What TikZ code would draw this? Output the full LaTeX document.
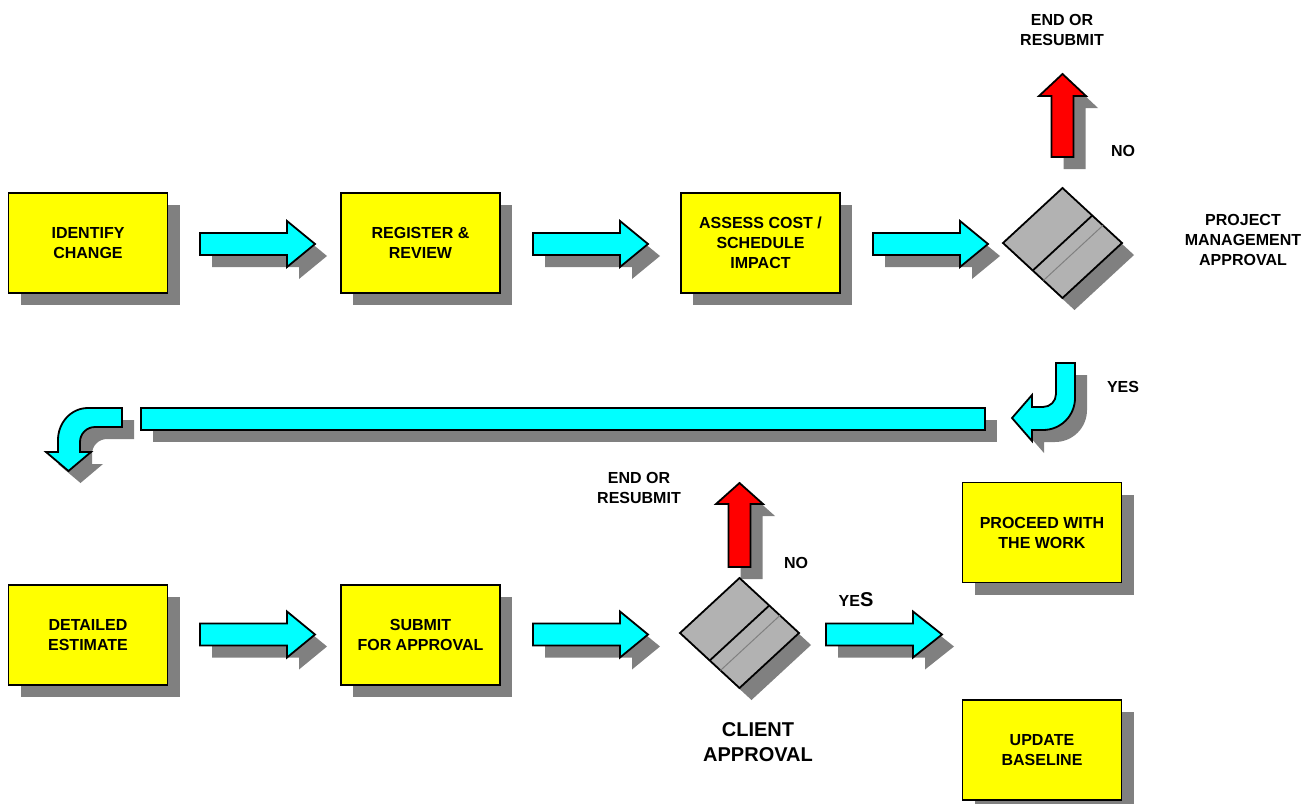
\documentclass[tikz,border=0pt]{standalone}
\usepackage{fontspec}
\setmainfont{Liberation Sans}[BoldFont={Liberation Sans Bold}]
\usetikzlibrary{shapes.geometric,shadows,calc}
\definecolor{boxyellow}{RGB}{255,255,0}
\definecolor{flowcyan}{RGB}{0,255,255}
\definecolor{stopred}{RGB}{255,0,0}
\definecolor{diagray}{RGB}{178,178,178}
\definecolor{shadegray}{RGB}{128,128,128}
\begin{document}
\begin{tikzpicture}[x=1pt,y=-1pt,
  dropsh/.style={drop shadow={shadow xshift=12pt,shadow yshift=-12pt,opacity=1,fill=shadegray}},
  actbox/.style={dropsh,draw,line width=1.8pt,fill=boxyellow,minimum width=159,minimum height=100,align=center,font=\fontsize{16}{20}\selectfont\bfseries},
  decision/.style={dropsh,diamond,draw,line width=1.8pt,fill=diagray,minimum width=119,minimum height=110,inner sep=0pt,outer sep=0pt},
  fwdarrow/.style={dropsh,draw,line width=1.8pt,fill=flowcyan,line join=miter},
  stoparrow/.style={dropsh,draw,line width=1.8pt,fill=stopred,line join=miter},
  lbl/.style={align=center,font=\fontsize{16}{20}\selectfont\bfseries,inner sep=0pt}]
 \useasboundingbox (0,0) rectangle (1311,803);
 % first row
 \node[actbox] (idc) at (88,243) {IDENTIFY\\CHANGE};
 \node[actbox] (reg) at (420.5,243) {REGISTER \&\\REVIEW};
 \node[actbox] (asc) at (760.5,243) {ASSESS COST /\\SCHEDULE\\IMPACT};
 \draw[fwdarrow,shift={(200,244)}] (0,-11) -- (87,-11) -- (87,-23) -- (115,0) -- (87,23) -- (87,11) -- (0,11) -- cycle;
 \draw[fwdarrow,shift={(533,244)}] (0,-11) -- (87,-11) -- (87,-23) -- (115,0) -- (87,23) -- (87,11) -- (0,11) -- cycle;
 \draw[fwdarrow,shift={(873,244)}] (0,-11) -- (87,-11) -- (87,-23) -- (115,0) -- (87,23) -- (87,11) -- (0,11) -- cycle;
 \draw[stoparrow,shift={(1062.5,74)}] (0,0) -- (23.5,22) -- (11,22) -- (11,83) -- (-11,83) -- (-11,22) -- (-23.5,22) -- cycle;
 \node[decision] (pma) at (1062.5,243) {};
 \draw[line width=1.8pt] ($(pma.north)!.5!(pma.east)$) -- ($(pma.west)!.5!(pma.south)$);
 \draw[shadegray,line width=1pt] ($(pma.north)!.68!(pma.east)$) -- ($(pma.west)!.68!(pma.south)$);
 \node[lbl] (pmaend) at (1062,30) {END OR\\RESUBMIT};
 \node[lbl] (pmano) at (1123,151) {NO};
 \node[lbl] (pmatxt) at (1243,240) {PROJECT\\MANAGEMENT\\APPROVAL};
 % return path
 \draw[fwdarrow] (1056,363) -- (1075,363) -- (1075,398) to[out=-90,in=0] (1043,430) -- (1032,430) -- (1032,441) -- (1012,418) -- (1032,395) -- (1032,407) -- (1043,407) to[out=0,in=-90] (1056,394) -- cycle;
 \node[lbl] (pmayes) at (1123,387) {YES};
 \node[dropsh,draw,line width=1.8pt,fill=flowcyan,minimum width=844,minimum height=22,inner sep=0pt] (pipe) at (563,419) {};
 \draw[fwdarrow] (122,408) -- (88,408) to[out=180,in=90] (58,440) -- (58,452) -- (46,452) -- (68.5,471) -- (91,452) -- (80,452) -- (80,442) to[out=90,in=180] (95,427) -- (122,427) -- cycle;
 % second row
 \node[actbox] (det) at (88,635) {DETAILED\\ESTIMATE};
 \node[actbox] (sub) at (420.5,635) {SUBMIT\\FOR APPROVAL};
 \draw[fwdarrow,shift={(200,634.5)}] (0,-11) -- (87,-11) -- (87,-23) -- (115,0) -- (87,23) -- (87,11) -- (0,11) -- cycle;
 \draw[fwdarrow,shift={(533,634.5)}] (0,-11) -- (87,-11) -- (87,-23) -- (115,0) -- (87,23) -- (87,11) -- (0,11) -- cycle;
 \draw[stoparrow,shift={(739.5,483)}] (0,0) -- (23.5,21) -- (11,21) -- (11,84) -- (-11,84) -- (-11,21) -- (-23.5,21) -- cycle;
 \node[decision] (cla) at (739.5,633) {};
 \draw[line width=1.8pt] ($(cla.north)!.5!(cla.east)$) -- ($(cla.west)!.5!(cla.south)$);
 \draw[shadegray,line width=1pt] ($(cla.north)!.68!(cla.east)$) -- ($(cla.west)!.68!(cla.south)$);
 \node[lbl] (claend) at (639,488) {END OR\\RESUBMIT};
 \node[lbl] (clano) at (796,563) {NO};
 \node[lbl] (clayes) at (856,600) {YE{\fontsize{20}{20}\selectfont S}};
 \draw[fwdarrow,shift={(826,634.5)}] (0,-11) -- (87,-11) -- (87,-23) -- (116,0) -- (87,23) -- (87,11) -- (0,11) -- cycle;
 \node[lbl,font=\fontsize{20}{25}\selectfont\bfseries] (clatxt) at (758,742) {CLIENT\\APPROVAL};
 \node[actbox] (pro) at (1042,532.5) {PROCEED WITH\\THE WORK};
 \node[actbox] (upd) at (1042,750) {UPDATE\\BASELINE};
\end{tikzpicture}
\end{document}
